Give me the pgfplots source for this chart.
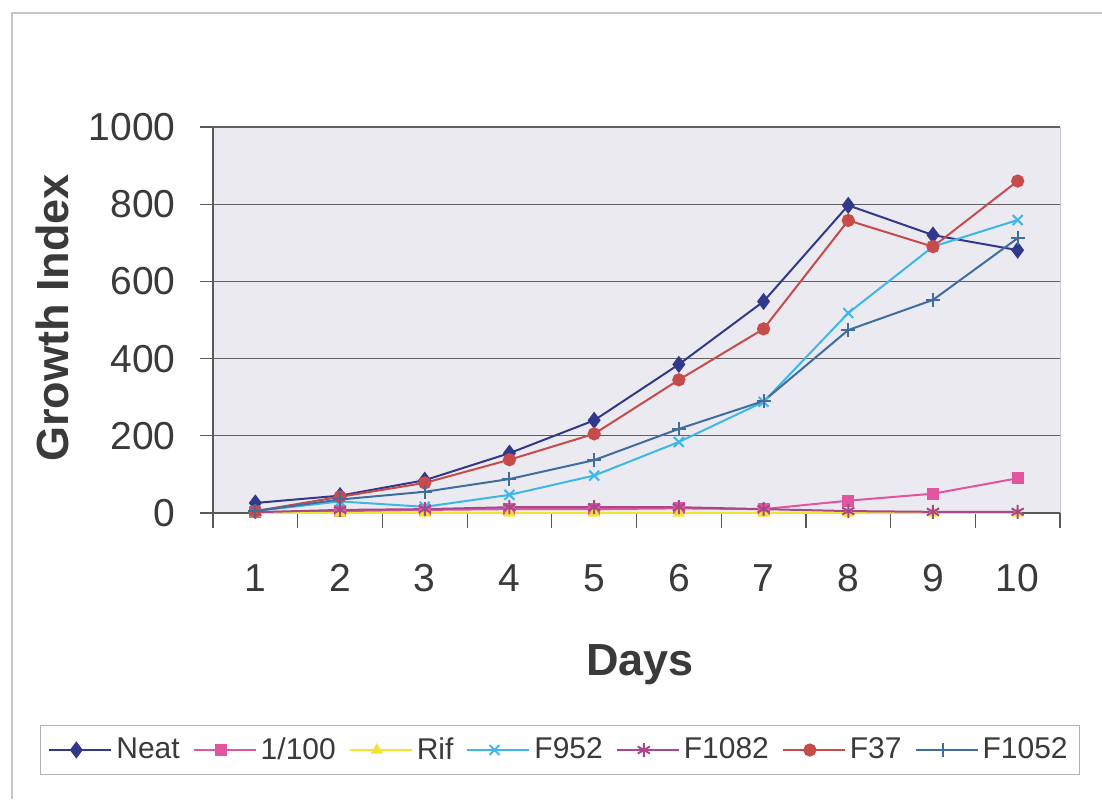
\documentclass[border=0pt]{standalone}
\usepackage{fontspec}
\setmainfont{Liberation Sans}
\usepackage{pgfplots}
\pgfplotsset{compat=1.18}
\definecolor{cNeat}{HTML}{33398A}
\definecolor{cHund}{HTML}{E0559E}
\definecolor{cRif}{HTML}{F2E431}
\definecolor{cF952}{HTML}{3FB6E8}
\definecolor{cF1082}{HTML}{A8488A}
\definecolor{cF37}{HTML}{C84B4B}
\definecolor{cF1052}{HTML}{3F6E9E}
\definecolor{bg}{HTML}{EAEAF0}
\definecolor{txt}{HTML}{3A3A3A}
\begin{document}
\begin{tikzpicture}
\useasboundingbox (0,0) rectangle (551pt,399.5pt);
\draw[gray!45, line width=0.6pt] (6pt,0pt) -- (6pt,393pt) -- (551pt,393pt);
\begin{axis}[
  at={(106.5pt,143pt)}, anchor=south west,
  scale only axis, width=423.5pt, height=193pt,
  xmin=0.5, xmax=10.5, ymin=0, ymax=1000,
  axis x line=bottom, axis y line=left,
  axis line style={gray!70!black, line width=0.6pt, -},
  axis background/.style={fill=bg, draw=gray!40},
  xtick={1,...,10},
  minor xtick={0.5,1.5,...,10.5},
  ytick={0,200,...,1000},
  tick align=outside,
  major tick length=6.5pt, minor tick length=7.5pt,
  major x tick style={draw=none},
  minor x tick style={gray!70!black, line width=0.6pt},
  major y tick style={gray!70!black, line width=0.6pt},
  ymajorgrids,
  major grid style={gray!75!black, line width=0.6pt},
  /pgf/number format/assume math mode=true,
  /pgf/number format/1000 sep={},
  ticklabel style={font=\fontsize{19.5}{22}\selectfont, text=txt},
  xticklabel style={anchor=center, yshift=-26pt},
  yticklabel style={anchor=east, inner sep=0pt, xshift=-12pt},
  xlabel={Days}, ylabel={Growth Index},
  label style={font=\fontsize{22.5}{26}\selectfont\bfseries, text=txt},
  xlabel style={at={(axis description cs:0.504,-0.394)}, anchor=center},
  ylabel style={at={(axis description cs:-0.190,0.505)}, anchor=center, rotate=0},
  clip=false,
  legend columns=7,
  legend style={at={(axis description cs:0.4097,-0.614)}, anchor=center,
    draw=gray!60, line width=0.5pt, fill=white, font=\fontsize{15}{18}\selectfont,
    text=txt, inner xsep=4pt, inner ysep=4pt,
    /tikz/every even column/.append style={column sep=4.5pt}},
  legend image code/.code={\path (0pt,0pt) -- (31pt,0pt);\draw[mark repeat=2,mark phase=2,#1] plot coordinates {(0pt,0pt) (13.5pt,0pt) (27pt,0pt)};},
  every axis plot/.append style={line width=1pt},
]
\addplot[cNeat, mark=diamond*, mark size=3.5pt] coordinates {(1,26)(2,45)(3,85)(4,155)(5,240)(6,385)(7,548)(8,797)(9,720)(10,681)};
\addlegendentry{Neat}
\addplot[cHund, mark=square*, mark size=2.5pt] coordinates {(1,2)(2,5)(3,8)(4,10)(5,10)(6,12)(7,10)(8,32)(9,50)(10,90)};
\addlegendentry{1/100}
\addplot[cRif, mark=triangle*, mark size=2.5pt] coordinates {(1,0)(2,0)(3,0)(4,0)(5,0)(6,0)(7,0)(8,0)(9,0)(10,0)};
\addlegendentry{Rif}
\addplot[cF952, mark=x, mark size=3.5pt] coordinates {(1,5)(2,30)(3,16)(4,47)(5,97)(6,184)(7,288)(8,518)(9,690)(10,759)};
\addlegendentry{F952}
\addplot[cF1082, mark=asterisk, mark size=3.5pt] coordinates {(1,2)(2,8)(3,10)(4,15)(5,15)(6,15)(7,10)(8,5)(9,3)(10,3)};
\addlegendentry{F1082}
\addplot[cF37, mark=*, mark size=2.8pt] coordinates {(1,5)(2,42)(3,78)(4,138)(5,205)(6,345)(7,477)(8,758)(9,690)(10,860)};
\addlegendentry{F37}
\addplot[cF1052, mark=+, mark size=3.5pt] coordinates {(1,5)(2,35)(3,55)(4,88)(5,137)(6,218)(7,290)(8,474)(9,552)(10,712)};
\addlegendentry{F1052}
\end{axis}
\end{tikzpicture}
\end{document}
